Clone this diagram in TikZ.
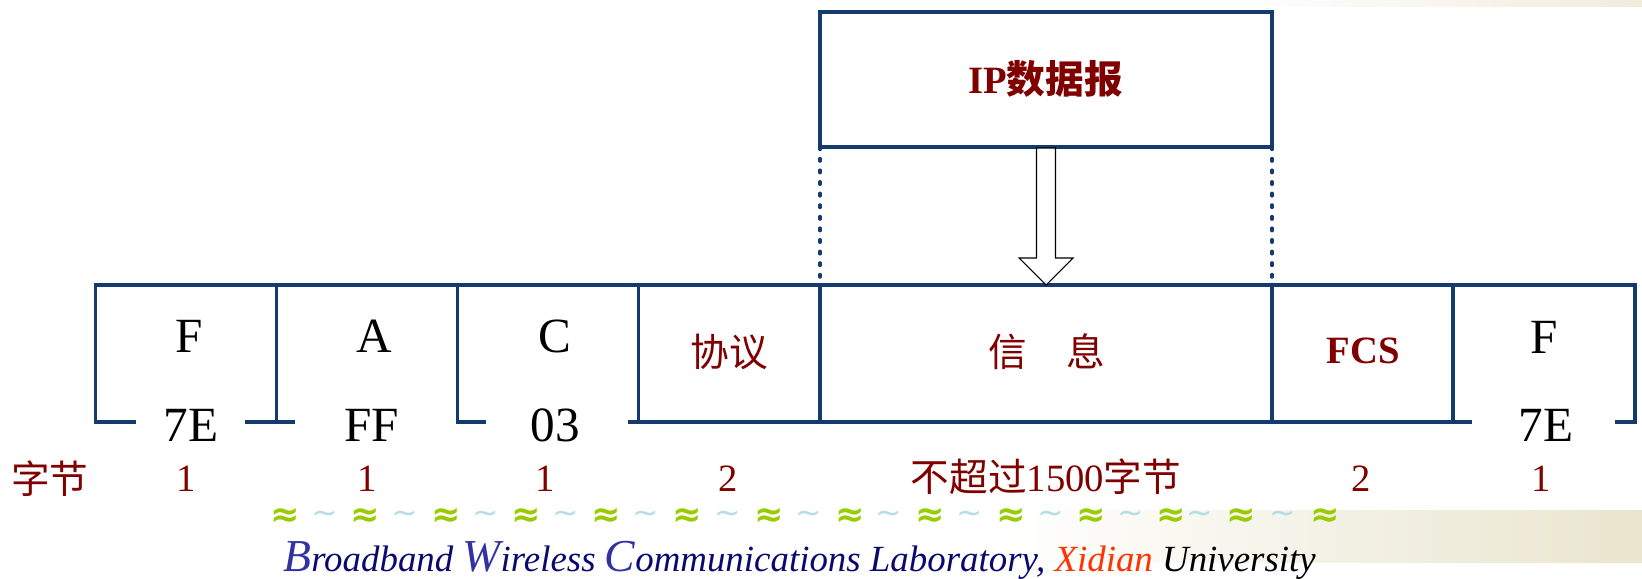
\documentclass[tikz,border=0pt]{standalone}
\usepackage{fontspec}
\setmainfont{Liberation Serif}
\newfontfamily\cjk{Noto Sans CJK SC}
\newfontfamily\symfnt{DejaVu Sans}
\usetikzlibrary{fit,calc}
\definecolor{frameblue}{RGB}{20,58,110}
\definecolor{darkred}{RGB}{128,0,0}
\definecolor{navyink}{RGB}{10,10,110}
\definecolor{capblue}{RGB}{50,50,160}
\definecolor{xidred}{RGB}{255,51,0}
\definecolor{wavegreen}{RGB}{153,204,0}
\definecolor{waveblue}{RGB}{180,222,228}
\definecolor{beigebg}{RGB}{233,229,206}
\tikzset{
  frameline/.style={draw=frameblue, line width=2.1pt, line cap=rect},
  dotline/.style={draw=frameblue, line width=2pt, line cap=round, dash pattern=on 1.4pt off 5.2pt},
  cell/.style={inner sep=0pt, outer sep=0pt},
  hexlabel/.style={font=\fontsize{28pt}{30pt}\selectfont, text=black, inner sep=0pt},
  redlabel/.style={font=\fontsize{22pt}{26pt}\selectfont, text=darkred, inner sep=0pt},
  redbold/.style={font=\fontsize{22pt}{26pt}\selectfont\bfseries, text=darkred, inner sep=0pt},
  countlabel/.style={font=\fontsize{22pt}{26pt}\selectfont, text=darkred, inner sep=0pt},
  wavebig/.style={font=\symfnt\bfseries\fontsize{20pt}{22pt}\selectfont, text=wavegreen, inner sep=0pt},
  wavesmall/.style={font=\symfnt\fontsize{18pt}{20pt}\selectfont, text=waveblue, inner sep=0pt},
  hollowarrow/.style={draw=black, fill=white, line width=0.6pt, line join=miter}
}
\begin{document}
\begin{tikzpicture}[x=0.02cm, y=-0.02cm]
\useasboundingbox (0,0) rectangle (1642,578);
% faint slide background
\fill[left color=white, right color=beigebg] (1000,510) rectangle (1642,562);
\fill[left color=white, right color=beigebg!70] (1230,0) rectangle (1642,6);

% IP datagram box
\node[cell, frameline, fit={(820,12)(1272,147)}] (ip) {};
\node[redbold] (iplab) at (1045.5,78.5) {IP{\cjk 数据报}};

% frame cells
\node[cell, fit={(95.5,285)(276.5,422)}] (cF1) {};
\node[cell, fit={(276.5,285)(457.5,422)}] (cA) {};
\node[cell, fit={(457.5,285)(638.5,422)}] (cC) {};
\node[cell, fit={(638.5,285)(820,422)}] (cP) {};
\node[cell, fit={(820,285)(1272,422)}] (cI) {};
\node[cell, fit={(1272,285)(1453,422)}] (cFCS) {};
\node[cell, fit={(1453,285)(1635,422)}] (cF2) {};

% top line and verticals
\draw[frameline] (cF1.south west) -- (cF1.north west) -- (cF2.north east) -- (cF2.south east);
\foreach \c in {cF1,cA,cC,cP,cI,cFCS}
  \draw[frameline] (\c.north east) -- (\c.south east);
% bottom line with gaps
\draw[frameline] (cF1.south west) -- ++(38.5,0);
\draw[frameline] ($(cF1.south east)+(-29.5,0)$) -- ($(cA.south west)+(17,0)$);
\draw[frameline] (cC.south west) -- ++(27,0);
\draw[frameline] ($(cP.south west)+(-8.5,0)$) -- ($(cF2.south west)+(17.5,0)$);
\draw[frameline] ($(cF2.south east)+(-18,0)$) -- (cF2.south east);

% dotted guides
\draw[dotline] (ip.south west) -- (cI.north west);
\draw[dotline] (ip.south east) -- (cI.north east);

% hollow block arrow
\draw[hollowarrow] ($(ip.south)+(-9.5,1)$) -- ($(cI.north)+(-9.5,-27)$) -- ($(cI.north)+(-27,-27)$) -- (cI.north)
  -- ($(cI.north)+(27,-27)$) -- ($(cI.north)+(9.5,-27)$) -- ($(ip.south)+(9.5,1)$) -- cycle;

% cell labels
\node[hexlabel] (tF1) at (189,336) {F};
\node[hexlabel] (tA) at (374,336) {A};
\node[hexlabel] (tC) at (555,336) {C};
\node[redlabel] (tP) at (729,352) {\cjk 协议};
\node[redlabel] (tI) at (1047,352) {\cjk 信\hspace{0.78cm}息};
\node[redbold] (tFCS) at (1363,351) {FCS};
\node[hexlabel] (tF2) at (1544,337) {F};
\node[hexlabel] (v1) at (191,425) {7E};
\node[hexlabel] (v2) at (372,425) {FF};
\node[hexlabel] (v3) at (555,425) {03};
\node[hexlabel] (v4) at (1546,425) {7E};

% byte counts
\node[countlabel] (n0) at (50,479) {\cjk 字节};
\node[countlabel] (n1) at (186.5,479) {1};
\node[countlabel] (n2) at (367,479) {1};
\node[countlabel] (n3) at (545.5,479) {1};
\node[countlabel] (n4) at (728,479) {2};
\node[countlabel] (n5) at (1046,477) {{\cjk 不超过}1500{\cjk 字节}};
\node[countlabel] (n6) at (1361,479) {2};
\node[countlabel] (n7) at (1541,479) {1};

% wave ornament
\foreach \x [count=\i] in {285,365,446,526,606,687,769,850,930,1011,1091,1171,1241,1325}
  \node[wavebig] (wb\i) at (\x,517) {≈};
\foreach \x [count=\i] in {325,405,486,566,646,728,809,889,970,1051,1131,1200,1283}
  \node[wavesmall] (ws\i) at (\x,517) {\char"223C};

% footer
\node[anchor=base west, inner sep=0pt, font=\itshape\fontsize{21pt}{24pt}\selectfont] (footer) at (283,571)
  {{\color{capblue}\fontsize{26pt}{28pt}\selectfont B}{\color{navyink}roadband }{\color{capblue}\fontsize{26pt}{28pt}\selectfont W}{\color{navyink}ireless }{\color{capblue}\fontsize{26pt}{28pt}\selectfont C}{\color{navyink}ommunications Laboratory,} {\color{xidred}Xidian} {\color{black}University}};
\end{tikzpicture}
\end{document}
